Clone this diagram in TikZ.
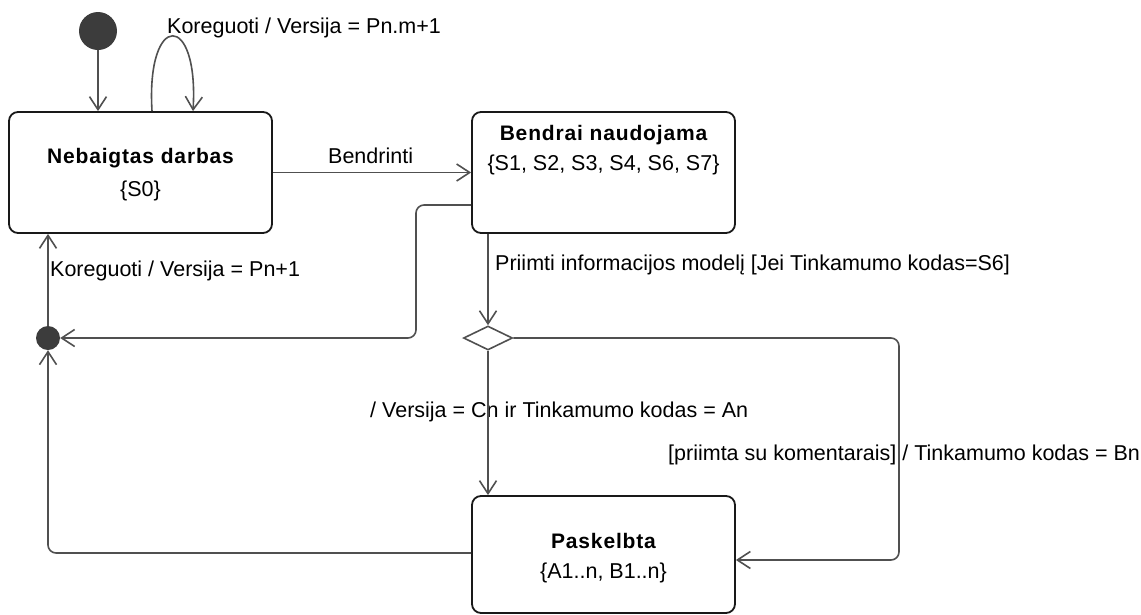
\documentclass[tikz,border=0pt]{standalone}
\usepackage{fontspec}
\setmainfont{Liberation Sans}
\newfontfamily\titlefont[LetterSpace=4]{Liberation Sans}
\usetikzlibrary{arrows.meta,shapes.geometric,calc}
\definecolor{linegray}{HTML}{505050}
\definecolor{dotgray}{HTML}{3C3C3C}
\begin{document}
\begin{tikzpicture}[x=1pt,y=-1pt,
  every node/.style={font=\fontsize{21.5}{25}\selectfont, text=black},
  state/.style={draw=black!90, line width=1.8pt, rounded corners=9pt,
    minimum width=263pt, minimum height=121pt, inner sep=0pt},
  title/.style={font=\fontsize{21}{25}\selectfont\titlefont\bfseries, inner sep=0pt, anchor=base},
  sub/.style={inner sep=0pt, anchor=base},
  lbl/.style={inner sep=0pt, anchor=base west},
  conn/.style={draw=linegray, line width=1.6pt, -{Straight Barb[length=13pt,width=17pt]}},
  dot/.style={circle, fill=dotgray, inner sep=0pt},
]
\useasboundingbox (0,0) rectangle (1141,614);

% states
\node[state] (neb) at (140.5,172.5) {};
\node[state] (bendr) at (603.5,172.5) {};
\node[state, minimum height=117pt] (pask) at (603.5,554.5) {};

\node[title] (nebT) at (140.5,163) {Nebaigtas darbas};
\node[sub] (nebS) at (140.5,196) {\{S0\}};
\node[title] (bendrT) at (603.5,140) {Bendrai naudojama};
\node[sub] (bendrS) at (603.5,170) {\{S1, S2, S3, S4, S6, S7\}};
\node[title] (paskT) at (603.5,548) {Paskelbta};
\node[sub] (paskS) at (603.5,578) {\{A1..n, B1..n\}};

% pseudo states
\node[dot, minimum size=38pt] (init) at (98,31) {};
\node[dot, minimum size=24pt] (junc) at (48,338) {};
\node[diamond, draw=linegray, line width=1.6pt, minimum width=49pt,
  minimum height=24pt, inner sep=0pt] (dec) at (488,338) {};

% transition labels
\node[lbl] (lLoop) at (167,33) {Koreguoti / Versija = Pn.m+1};
\node[lbl] (lShare) at (328,163) {Bendrinti};
\node[lbl] (lBack) at (50,276) {Koreguoti / Versija = Pn+1};
\node[lbl] (lAccept) at (495,270) {Priimti informacijos modelį [Jei Tinkamumo kodas=S6]};
\node[lbl] (lPublish) at (370,417) {/ Versija = Cn ir Tinkamumo kodas = An};
\node[lbl] (lComment) at (668,460) {[priimta su komentarais] / Tinkamumo kodas = Bn};

% transitions
\draw[conn] (init) -- (init |- neb.north);
\draw[conn] ([xshift=11.5pt]neb.north) .. controls +(-6,-100) and +(6,-100) .. ([xshift=52.5pt]neb.north);
\draw[conn] (neb.east) -- (bendr.west);

\coordinate (rt) at (416,205);
\draw[conn, rounded corners=8pt] (bendr.west |- rt) -- (rt) -- (rt |- junc) -- (junc);
\draw[conn] (junc) -- (junc |- neb.south);

\coordinate (lb) at (48,553);
\draw[conn, rounded corners=8pt] (pask.west |- lb) -- (lb) -- (junc);

\draw[conn] (dec.north |- bendr.south) -- (dec);
\draw[conn] (dec) -- (dec |- pask.north);

\coordinate (rb) at (899,560);
\draw[conn, rounded corners=8pt] (dec.east) -- (rb |- dec) -- (rb) -- (pask.east |- rb);
\end{tikzpicture}
\end{document}
